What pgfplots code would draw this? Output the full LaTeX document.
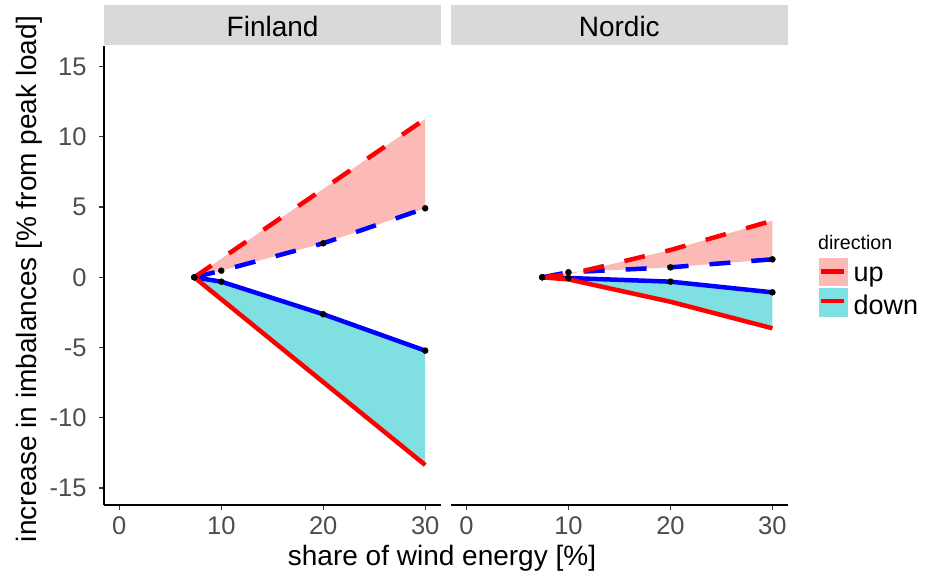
\documentclass[border=0pt]{standalone}
\usepackage{fontspec}
\setmainfont{Liberation Sans}
\usepackage{pgfplots}
\usepackage{pgfplotstable}
\pgfplotsset{compat=1.18}
\usepgfplotslibrary{fillbetween}

\definecolor{upfill}{HTML}{FBBAB6}
\definecolor{downfill}{HTML}{80DFE1}
\definecolor{stripgray}{HTML}{D9D9D9}
\definecolor{ticklab}{HTML}{4D4D4D}
\definecolor{tickcol}{HTML}{333333}
\definecolor{ggred}{HTML}{FF0000}
\definecolor{ggblue}{HTML}{0000FF}

% columns: x, up (red, dashed), up (blue, dashed), down (red, solid), down (blue, solid)
\pgfplotstableread{
x     upR    upB   dnR     dnB
7.35  0      0     0       0
10    1.32   0.47  -1.56   -0.31
20    6.29   2.42  -7.46   -2.63
30    11.27  4.91  -13.36  -5.22
}\finland

\pgfplotstableread{
x     upR    upB   dnR     dnB
7.42  0      0     0       0
10    0.20   0.36  -0.15   -0.05
20    1.94   0.71  -1.74   -0.31
30    4.03   1.28  -3.63   -1.07
}\nordic

\pgfplotsset{
  panel/.style={
    scale only axis,
    width=336.5pt, height=459pt,
    anchor=origin,
    xmin=-1.5, xmax=31.5, ymin=-16.21, ymax=16.46,
    xtick={0,10,20,30},
    axis x line*=bottom,
    axis line style={black, line width=1.1pt, -},
    tick align=outside,
    major tick length=5pt,
    tick style={color=tickcol, line width=1.1pt},
    ticklabel style={font=\fontsize{25.5}{30}\selectfont, text=ticklab},
    xticklabel style={yshift=-3.5pt},
    yticklabel style={xshift=-9pt},
    /pgf/number format/assume math mode=true,
  },
  redline/.style={color=ggred, line width=4.5pt, line join=round, line cap=butt},
  blueline/.style={color=ggblue, line width=4.5pt, line join=round, line cap=butt},
  dashedline/.style={dash pattern=on 21pt off 21pt},
  pts/.style={only marks, mark=*, mark size=3pt, color=black, mark options={fill=black}},
}

\newcommand{\panelplots}[1]{%
  \addplot[name path=uR, draw=none] table[x=x, y=upR] {#1};
  \addplot[name path=uB, draw=none] table[x=x, y=upB] {#1};
  \addplot[name path=dR, draw=none] table[x=x, y=dnR] {#1};
  \addplot[name path=dB, draw=none] table[x=x, y=dnB] {#1};
  \addplot[upfill, draw=none] fill between[of=uR and uB];
  \addplot[downfill, draw=none] fill between[of=dR and dB];
  \addplot[pts] table[x=x, y=upB] {#1};
  \addplot[pts] table[x=x, y=dnB] {#1};
  \addplot[blueline, dashedline] table[x=x, y=upB] {#1};
  \addplot[blueline] table[x=x, y=dnB] {#1};
  \addplot[redline, dashedline] table[x=x, y=upR] {#1};
  \addplot[redline] table[x=x, y=dnR] {#1};
}

\begin{document}
\begin{tikzpicture}[x=1pt, y=1pt]

\begin{axis}[panel, at={(119.3pt,295.7pt)},
  axis y line*=left,
  ytick={-15,-10,-5,0,5,10,15},
]
\panelplots{\finland}
\end{axis}

\begin{axis}[panel, at={(466.5pt,295.7pt)},
  axis y line=none,
]
\panelplots{\nordic}
\end{axis}

% facet strips
\fill[stripgray] (104.3,528) rectangle (441,567.7);
\fill[stripgray] (451,528) rectangle (787.7,567.7);
\node[anchor=base, text=black, inner sep=0pt, font=\fontsize{28}{32}\selectfont] at (272.6,536.5) {Finland};
\node[anchor=base, text=black, inner sep=0pt, font=\fontsize{28}{32}\selectfont] at (619.3,536.5) {Nordic};

% axis titles
\node[anchor=base, inner sep=0pt, font=\fontsize{28}{32}\selectfont] at (442,8) {share of wind energy [\%]};
\node[anchor=base, rotate=90, inner sep=0pt, font=\fontsize{28}{32}\selectfont] at (36.5,294) {increase in imbalances [\% from peak load]};

% legend
\node[anchor=base west, inner sep=0pt, font=\fontsize{19.6}{23}\selectfont] at (818,323) {direction};
\fill[upfill] (819.3,287.3) rectangle (847.7,315.3);
\fill[downfill] (819.3,256.3) rectangle (847.7,284.7);
\draw[ggred, line width=4.5pt] (820.7,301.3) -- (844,301.3);
\draw[ggred, line width=4.5pt] (820.7,272) -- (844,272);
\node[anchor=base west, inner sep=0pt, font=\fontsize{27}{31}\selectfont] at (853.3,291.3) {up};
\node[anchor=base west, inner sep=0pt, font=\fontsize{27}{31}\selectfont] at (853.3,258) {down};

\pgfresetboundingbox
\path[use as bounding box] (0,0) rectangle (925,573);
\end{tikzpicture}
\end{document}
